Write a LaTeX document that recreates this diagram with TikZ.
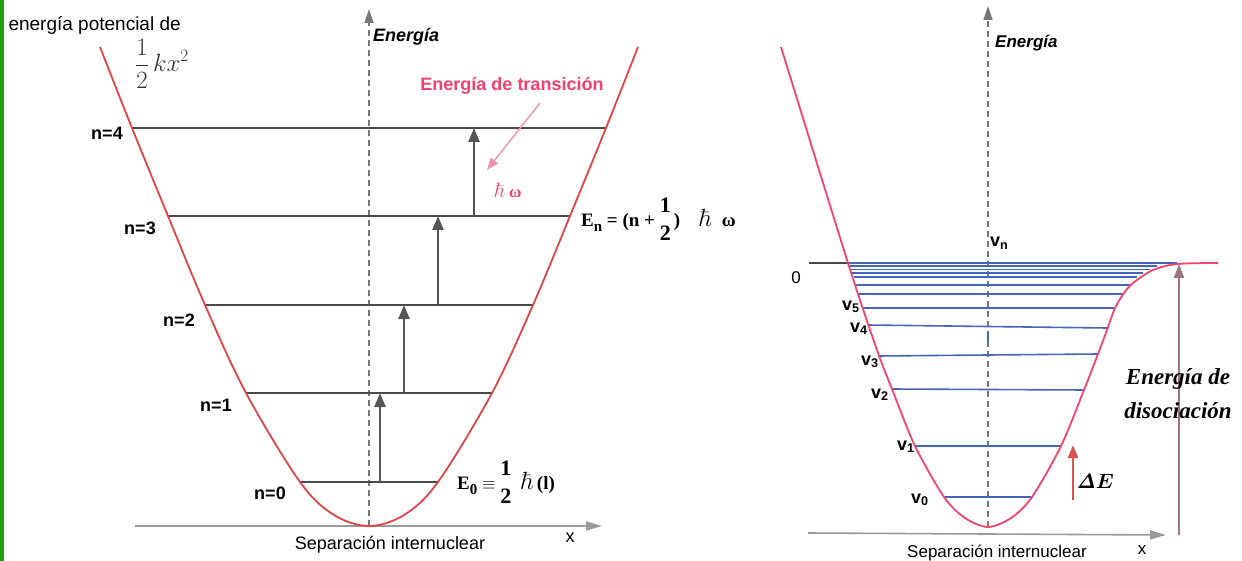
\documentclass[tikz,border=0pt]{standalone}
\usepackage{amsmath}
\usepackage[no-math]{fontspec}
\setmainfont{Liberation Sans}
\newfontfamily\tnr{Liberation Serif}
\usetikzlibrary{arrows.meta,positioning}
\definecolor{Bar}{HTML}{1DA10E}
\definecolor{Wall}{HTML}{DF4545}
\definecolor{Morse}{HTML}{F5436E}
\definecolor{Level}{HTML}{4A4A4A}
\definecolor{Axis}{HTML}{9A9A9A}
\definecolor{Dash}{HTML}{777777}
\definecolor{Jump}{HTML}{555555}
\definecolor{Trans}{HTML}{F0416F}
\definecolor{TransLine}{HTML}{F590B2}
\definecolor{Vib}{HTML}{4466B8}
\definecolor{Delta}{HTML}{D9534F}
\definecolor{Diss}{HTML}{9C7680}
\definecolor{Mute}{HTML}{333333}
\newcommand\fsz[1]{\fontsize{#1}{#1}\selectfont}
\newcommand\halfstack{{\fontsize{22}{28}\selectfont\begin{tabular}{@{}c@{}}1\\2\end{tabular}}}
\newcommand\lowsub[1]{\raisebox{-5pt}{\fsz{15}#1}}

\begin{document}
\begin{tikzpicture}[x=1pt,y=-1pt,
  lvl/.style={draw=Level,line width=2pt},
  vib/.style={draw=Vib,line width=1.6pt},
  jump/.style={draw=Jump,line width=2.6pt,-{Triangle[length=14pt,width=11pt]}},
  xaxis/.style={draw=Axis,line width=1.6pt,-{Triangle[length=16pt,width=9pt]}},
  dashaxis/.style={draw=Dash,line width=1.3pt,dash pattern=on 6pt off 4pt,-{Triangle[length=14pt,width=9pt]}},
  nlab/.style={font=\fsz{18}\bfseries},
  vlab/.style={font=\fsz{18}\bfseries,anchor=base west,inner sep=0pt},
  eq/.style={font=\fsz{19}\tnr\bfseries,anchor=west,inner sep=0pt}]
  \useasboundingbox (0,0) rectangle (1242,561);
  \fill[Bar] (0,0) rectangle (4,561);

  \coordinate (lx0) at (135,526);
  \coordinate (lx1) at (602,526);
  \draw[xaxis] (lx0) -- (lx1);
  \coordinate (le0) at (369,526);
  \coordinate (le1) at (369,9);
  \draw[dashaxis] (le0) -- (le1);
  \foreach \n/\y/\a/\b/\lx/\ly in {0/482/300/438/270/493, 1/393/246/492/216/405, 2/305/205/533/179/320, 3/216/168/570/140/228, 4/128/132/606/107/133} {
    \draw[lvl] (\a,\y) -- (\b,\y);
    \node[nlab] (n\n) at (\lx,\ly) {n=\n};
  }
  \draw[Wall,line width=1.8pt] plot[smooth,tension=0.55] coordinates {(100,47) (132,128) (168,216) (205,305) (246,393) (300,482) (334,515) (369,526) (404,515) (438,482) (492,393) (533,305) (570,216) (606,128) (638,47)};
  \foreach \i/\x/\ya/\yb in {0/380/482/393, 1/404/393/305, 2/438/305/216, 3/474/216/128} {
    \coordinate (jb\i) at (\x,\ya);
    \coordinate (jt\i) at (\x,\yb);
    \draw[jump] (jb\i) -- (jt\i);
  }
  \node[font=\fsz{19},anchor=west] (pot) at (5,25) {energía potencial de};
  \node[text=Mute] (pot2) at (162,64) {\fsz{23}$\displaystyle\frac{1}{2}\,kx^2$};
  \node[font=\fsz{18}\bfseries\itshape,anchor=west,inner sep=0pt] (lE) at (373,37) {Energía};
  \node[font=\fsz{18}\bfseries,text=Trans] (trans) at (512,86) {Energía de transición};
  \coordinate (tr0) at (540,103);
  \coordinate (tr1) at (487,170);
  \draw[TransLine,line width=1.4pt,-{Triangle[length=12pt,width=9pt]}] (tr0) -- (tr1);
  \node[text=Trans] (hw) at (508,190) {\fsz{22}$\hbar$\,{\fsz{17}\tnr\bfseries ω}};
  \node[eq] (En) at (581,221) {E\lowsub{n} = (n + \halfstack\,)\quad{\fsz{24}$\hbar$}\enspace ω};
  \node[eq] (E0) at (457,484) {E\lowsub{0} $\equiv$ \halfstack\enspace{\fsz{24}$\hbar$}\,(l)};
  \node[font=\fsz{18}] (lsep) at (390,545) {Separación internuclear};
  \node[font=\fsz{18}] (lx) at (570,538) {x};

  \coordinate (rx0) at (808,533);
  \coordinate (rx1) at (1166,535);
  \draw[xaxis] (rx0) -- (rx1);
  \coordinate (re0) at (988,527);
  \coordinate (re1) at (988,6);
  \draw[dashaxis] (re0) -- (re1);
  \coordinate (z0) at (809,263);
  \coordinate (z1) at (849,263);
  \draw[Level,line width=1.8pt] (z0) -- (z1);
  \foreach \ya/\a/\yb/\b in {263/848/263/1177, 266/850/266/1157, 269.5/851/269.5/1150, 273/852/273/1143, 277/854/277/1137, 285/856/285/1132, 294/859/294/1123, 308/863/308/1115, 325/868/328/1107, 356/878/354/1098, 389/891/390/1085, 446/914/446/1061, 497/945/497/1032}
    \draw[vib] (\a,\ya) -- (\b,\yb);
  \draw[vib] (988,332) -- (988,343);
  \draw[Morse,line width=1.8pt] plot[smooth,tension=0.5] coordinates {(781,47) (848,263) (877,350) (892,389) (915,446) (944,497) (965,518) (988,527) (1011,518) (1032,497) (1061,446) (1084,390) (1098,354) (1107,330) (1115,308) (1124,293) (1133,283) (1153,270) (1177,264) (1218,263)};
  \node[font=\fsz{17}] (zero) at (796,278) {0};
  \foreach \v/\x/\y in {0/911/503, 1/897/450, 2/871/398, 3/861/365, 4/850/332, 5/842/310}
    \node[vlab] (v\v) at (\x,\y) {v\textsubscript{\v}};
  \node[vlab] (vn) at (990,247) {v\textsubscript{n}};
  \node[font=\fsz{17}\bfseries\itshape,anchor=west,inner sep=0pt] (rE) at (995,43) {Energía};
  \coordinate (de0) at (1073,500);
  \coordinate (de1) at (1073,445);
  \draw[Delta,line width=2.6pt,-{Triangle[length=13pt,width=10pt]}] (de0) -- (de1);
  \node[font=\fsz{22}\boldmath] (dE) at (1095,481) {$\mathit{\Delta}E$};
  \coordinate (dd0) at (1179,535);
  \coordinate (dd1) at (1179,264);
  \draw[Diss,line width=2.2pt,-{Triangle[length=14pt,width=10pt]}] (dd0) -- (dd1);
  \node[font=\fontsize{23}{34}\selectfont\tnr\bfseries\itshape,align=center] (diss) at (1178,394) {Energía de\\disociación};
  \node[font=\fsz{17}] (rsep) at (997,553) {Separación internuclear};
  \node[font=\fsz{17}] (rx) at (1142,550) {x};
\end{tikzpicture}
\end{document}
